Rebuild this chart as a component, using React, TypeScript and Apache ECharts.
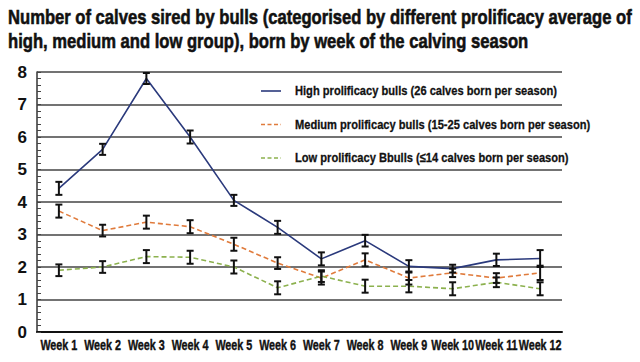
import React, { useEffect, useRef } from "react";
import * as echarts from "echarts";

const weeks = ["Week 1", "Week 2", "Week 3", "Week 4", "Week 5", "Week 6", "Week 7", "Week 8", "Week 9", "Week 10", "Week 11", "Week 12"];
const yTicks = [0, 1, 2, 3, 4, 5, 6, 7, 8];

const seriesNames = [
  "High prolificacy bulls (26 calves born per season)",
  "Medium prolificacy bulls (15-25 calves born per season)",
  "Low prolificacy Bbulls (\u226414 calves born per season)",
];

const high = [4.42, 5.62, 7.8, 6.0, 4.05, 3.22, 2.25, 2.81, 2.02, 1.95, 2.22, 2.26];
const highErr = [0.2, 0.17, 0.17, 0.2, 0.17, 0.2, 0.2, 0.18, 0.19, 0.12, 0.19, 0.26];
const medium = [3.72, 3.12, 3.38, 3.24, 2.7, 2.12, 1.66, 2.22, 1.66, 1.82, 1.66, 1.82];
const mediumErr = [0.2, 0.18, 0.2, 0.2, 0.2, 0.18, 0.2, 0.2, 0.2, 0.13, 0.15, 0.22];
const low = [1.9, 2.0, 2.32, 2.3, 2.0, 1.36, 1.72, 1.41, 1.41, 1.33, 1.53, 1.33];
const lowErr = [0.18, 0.18, 0.2, 0.2, 0.2, 0.2, 0.18, 0.2, 0.19, 0.2, 0.15, 0.2];

const colors = ["#2b3a7c", "#e07b3c", "#8cb14e"];
const lineTypes = ["solid", "dashed", "dashed"];
const titleLines = [
  "Number of calves sired by bulls (categorised by different prolificacy average of",
  "high, medium and low group), born by week of the calving season",
];

const FONT = '"Liberation Sans", Arial, sans-serif';

function measure(text: string, size: number): number {
  const ctx = document.createElement("canvas").getContext("2d");
  if (!ctx) return text.length * size * 0.55;
  ctx.font = `bold ${size}px "Liberation Sans", Arial, sans-serif`;
  return ctx.measureText(text).width;
}

function errData(vals: number[], errs: number[]) {
  return vals.map((v, i) => [i, v - errs[i], v + errs[i]]);
}

export default function App() {
  const ref = useRef<HTMLDivElement>(null);
  useEffect(() => {
    if (!ref.current) return;
    const chart = echarts.init(ref.current, undefined, { renderer: "svg" });
    const renderErr = (params: any, api: any) => {
      const x = api.value(0);
      const lo = api.coord([x, api.value(1)]);
      const hi = api.coord([x, api.value(2)]);
      const hw = 3.5;
      const style = { stroke: "#111", lineWidth: 2 };
      return {
        type: "group",
        children: [
          { type: "line", shape: { x1: lo[0], y1: lo[1], x2: hi[0], y2: hi[1] }, style },
          { type: "line", shape: { x1: lo[0] - hw, y1: lo[1], x2: lo[0] + hw, y2: lo[1] }, style },
          { type: "line", shape: { x1: hi[0] - hw, y1: hi[1], x2: hi[0] + hw, y2: hi[1] }, style },
        ],
      };
    };
    const dash = (t: string) => (t === "solid" ? "solid" : [5, 3]);
    const lineSeries = (i: number, data: number[]) => ({
      name: seriesNames[i],
      type: "line",
      data,
      symbol: "none",
      z: 2,
      lineStyle: { color: colors[i], width: 1.6, type: dash(lineTypes[i]) },
      itemStyle: { color: colors[i] },
    });
    const errSeries = (vals: number[], errs: number[]) => ({
      type: "custom",
      renderItem: renderErr,
      data: errData(vals, errs),
      z: 3,
      silent: true,
    });
    chart.setOption({
      animation: false,
      grid: { left: 37, right: 78, top: 72, bottom: 30 },
      xAxis: {
        type: "category",
        data: weeks,
        boundaryGap: true,
        axisLine: { lineStyle: { color: "#111", width: 2 } },
        axisTick: { show: false },
        axisLabel: { show: false },
      },
      yAxis: {
        type: "value",
        min: yTicks[0],
        max: yTicks[yTicks.length - 1],
        interval: 1,
        axisLine: { show: true, lineStyle: { color: "#333", width: 1.5 } },
        axisTick: { show: true, inside: true, length: 4, lineStyle: { color: "#444" } },
        minorTick: { show: true, splitNumber: 5, length: 4, lineStyle: { color: "#444" } },
        splitLine: { lineStyle: { color: "#444", width: 1.5 } },
        axisLabel: { fontFamily: FONT, fontWeight: "bold", fontSize: 17, color: "#111", margin: 10 },
      },
      series: [
        lineSeries(0, high),
        lineSeries(1, medium),
        lineSeries(2, low),
        errSeries(high, highErr),
        errSeries(medium, mediumErr),
        errSeries(low, lowErr),
      ],
    });

    // Title: condensed by horizontal scaling to match the reference width
    const titleSize = 21;
    const titleScale = 624 / measure(titleLines[0], titleSize);
    const titleEls = titleLines.map((t, i) => ({
      type: "text",
      x: 8,
      y: 17 + i * 23.5,
      scaleX: titleScale,
      style: {
        text: t, font: `bold ${titleSize}px ${FONT}`, fill: "#111",
        stroke: "#111", lineWidth: 0.6,
        verticalAlign: "middle", align: "left",
      },
    }));

    // Legend
    const legSize = 13.5;
    const legScale = 262 / measure(seriesNames[0], legSize);
    const legY = [91, 124.5, 158];
    const legendEls: any[] = [];
    seriesNames.forEach((name, i) => {
      legendEls.push({
        type: "line",
        shape: { x1: 261, y1: legY[i], x2: 281, y2: legY[i] },
        style: { stroke: colors[i], lineWidth: 1.6, lineDash: lineTypes[i] === "solid" ? null : [4, 2.5] },
      });
      legendEls.push({
        type: "text",
        x: 295,
        y: legY[i],
        scaleX: legScale,
        style: {
          text: name, font: `bold ${legSize}px ${FONT}`, fill: "#111",
          stroke: "#111", lineWidth: 0.3,
          verticalAlign: "middle", align: "left",
        },
      });
    });

    // Category labels placed through the category axis scale
    const wkSize = 15.5;
    const wkScale = 37 / measure(weeks[0], wkSize);
    const baseY = chart.convertToPixel({ yAxisIndex: 0 }, 0) as number;
    const weekEls = weeks.map((w) => ({
      type: "text",
      x: chart.convertToPixel({ xAxisIndex: 0 }, w) as number,
      y: baseY + 12.5,
      scaleX: wkScale,
      style: {
        text: w, font: `bold ${wkSize}px ${FONT}`, fill: "#111",
        stroke: "#111", lineWidth: 0.4,
        verticalAlign: "middle", align: "center",
      },
    }));

    chart.setOption({ graphic: [...titleEls, ...legendEls, ...weekEls] });
    return () => chart.dispose();
  }, []);
  return <div ref={ref} style={{ width: 640, height: 362, position: "absolute", left: 0, top: 0 }} />;
}
